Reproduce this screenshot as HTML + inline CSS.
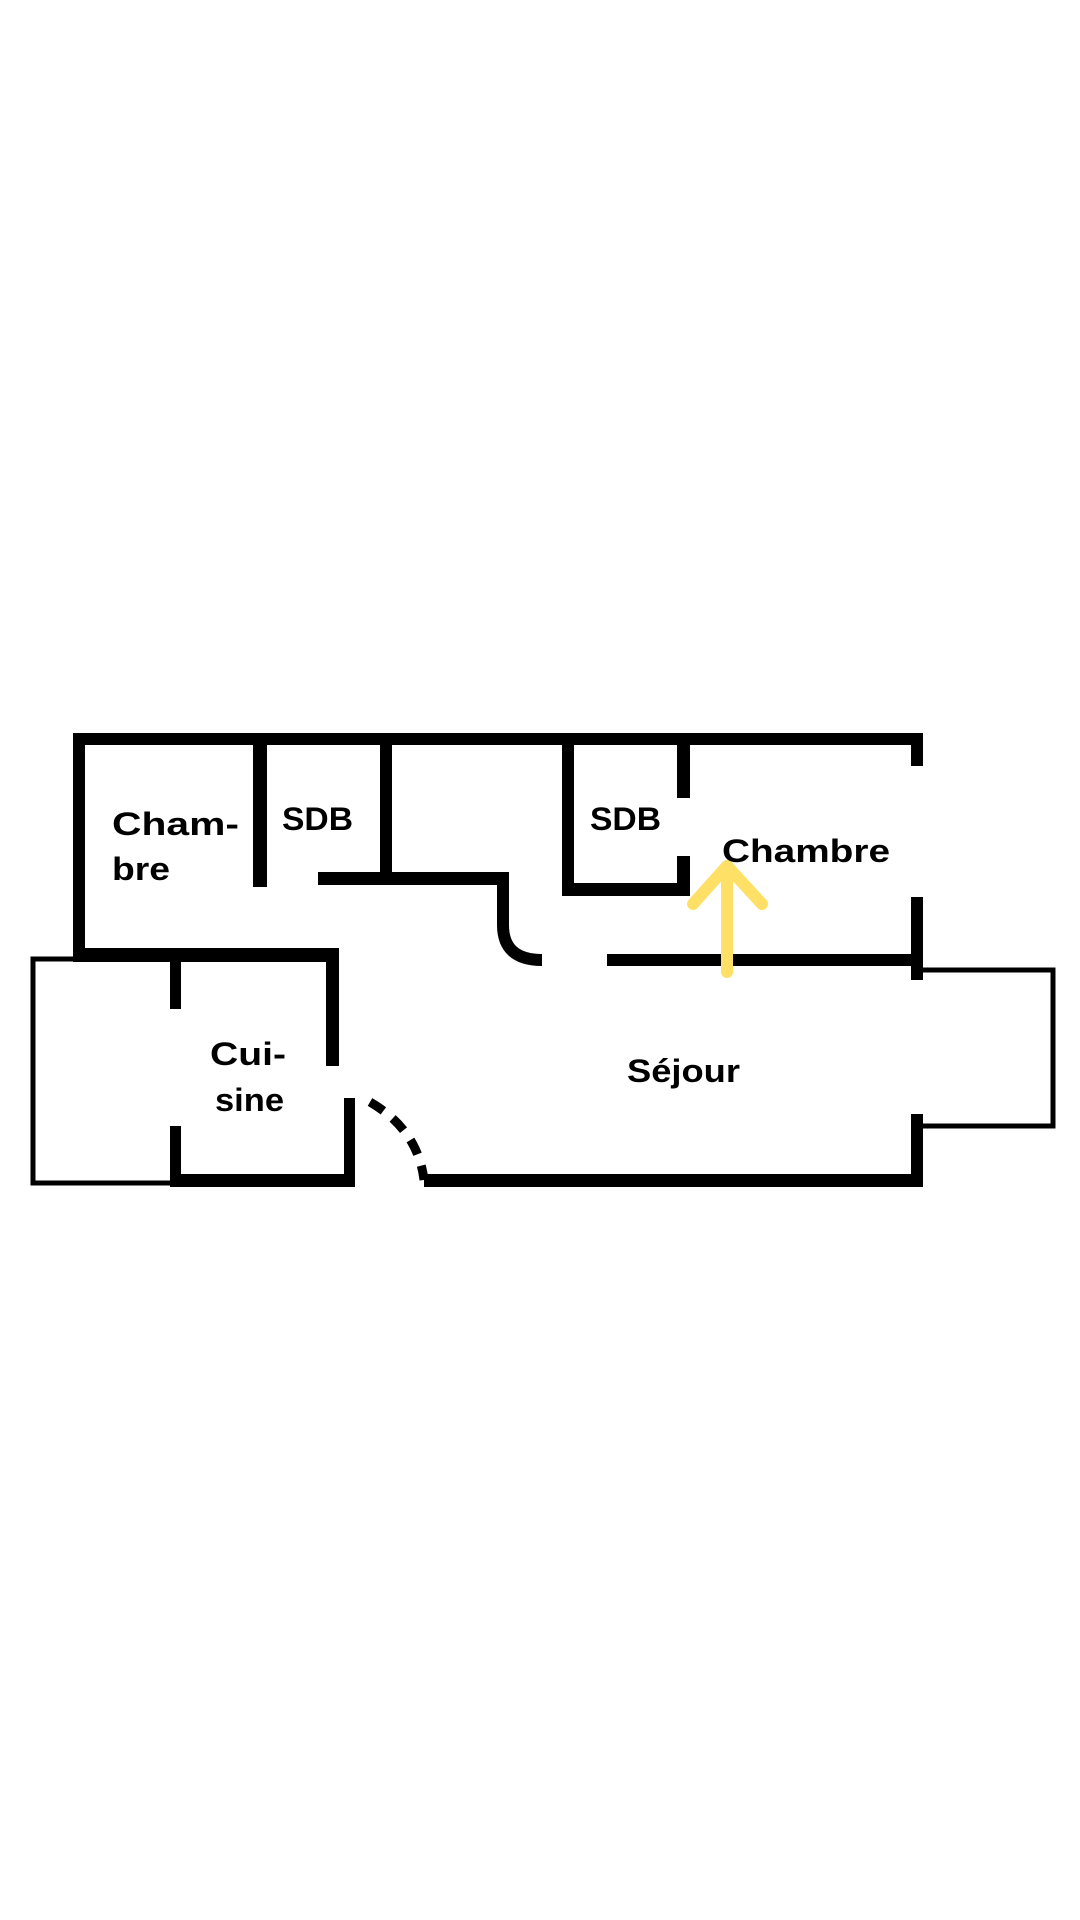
<!DOCTYPE html>
<html><head><meta charset="utf-8"><style>html,body{margin:0;padding:0;background:#fff;width:1080px;height:1920px;overflow:hidden}</style></head>
<body>
<svg width="1080" height="1920" viewBox="0 0 1080 1920" xmlns="http://www.w3.org/2000/svg">
<rect width="1080" height="1920" fill="#fff"/>
<g fill="#000">
<!-- outer top -->
<rect x="73" y="733" width="850" height="12"/>
<rect x="911" y="733" width="12" height="33"/>
<rect x="911" y="897" width="12" height="83"/>
<rect x="911" y="1114" width="12" height="73"/>
<rect x="73" y="733" width="12" height="224"/>
<rect x="73" y="948" width="266" height="14"/>
<rect x="326" y="948" width="13" height="118"/>
<rect x="170" y="948" width="11" height="61"/>
<rect x="170" y="1126" width="11" height="61"/>
<rect x="170" y="1174" width="185" height="13"/>
<rect x="344" y="1098" width="11" height="89"/>
<rect x="424" y="1174" width="499" height="13"/>
<rect x="607" y="954" width="316" height="12"/>
<rect x="318" y="872" width="191" height="13"/>
<rect x="253" y="733" width="14" height="154"/>
<rect x="380" y="733" width="12" height="152"/>
<rect x="562" y="733" width="12" height="163"/>
<rect x="562" y="883" width="128" height="13"/>
<rect x="677" y="733" width="13" height="65"/>
<rect x="677" y="856" width="13" height="40"/>
</g>
<path d="M503 878 L503 925 Q503 960 542 960" fill="none" stroke="#000" stroke-width="12"/>
<g fill="none" stroke="#000" stroke-width="5">
<polyline points="78,959 33,959 33,1183 172,1183"/>
<polyline points="923,970 1053,970 1053,1126 923,1126"/>
</g>
<path d="M370 1102 Q418 1130 424 1180" fill="none" stroke="#000" stroke-width="9" stroke-dasharray="16 12"/>
<g stroke="#FFE066" stroke-width="12" stroke-linecap="round" fill="none">
<line x1="727" y1="972" x2="727" y2="866"/>
<polyline points="693,904 727,866 762,904" stroke-linejoin="round"/>
</g>
<g font-family="Liberation Sans, sans-serif" font-weight="bold" font-size="32" fill="#000">
<text x="112" y="835" textLength="127" lengthAdjust="spacingAndGlyphs">Cham-</text>
<text x="112" y="880" textLength="58" lengthAdjust="spacingAndGlyphs">bre</text>
<text x="282" y="830" textLength="71" lengthAdjust="spacingAndGlyphs">SDB</text>
<text x="590" y="830" textLength="71" lengthAdjust="spacingAndGlyphs">SDB</text>
<text x="722" y="862" textLength="168" lengthAdjust="spacingAndGlyphs">Chambre</text>
<text x="210" y="1065" textLength="76" lengthAdjust="spacingAndGlyphs">Cui-</text>
<text x="215" y="1111" textLength="69" lengthAdjust="spacingAndGlyphs">sine</text>
<text x="627" y="1082" textLength="113" lengthAdjust="spacingAndGlyphs">Séjour</text>
</g>
</svg>
</body></html>
